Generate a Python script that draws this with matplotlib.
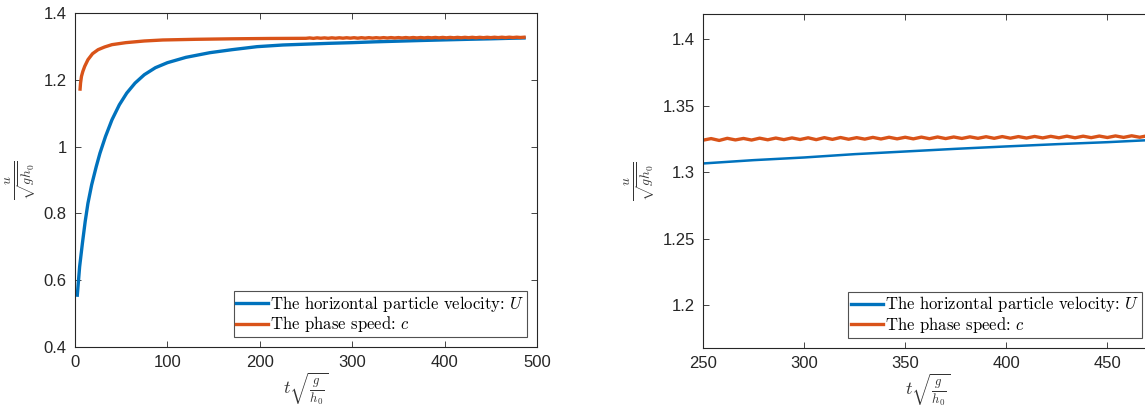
import matplotlib
matplotlib.use('Agg')
import matplotlib.pyplot as plt
import numpy as np

# Data
# horizontal particle velocity U
t_U = [2.5, 5, 8, 11, 14, 18, 23, 27, 33, 40, 48, 56, 65, 75, 87, 100, 120,
       146, 170, 197, 225, 250, 275, 300, 325, 350, 375, 400, 425, 450, 470, 486]
U = [0.555, 0.64, 0.71, 0.775, 0.83, 0.885, 0.94, 0.98, 1.03, 1.08, 1.125,
     1.16, 1.19, 1.215, 1.236, 1.251, 1.267, 1.281, 1.29, 1.299, 1.304, 1.3065,
     1.309, 1.311, 1.3135, 1.3155, 1.3175, 1.3193, 1.321, 1.3225, 1.324, 1.325]

# phase speed c (smooth start, then the small wiggles seen in the zoom)
t_c = [5.5, 6, 7, 8.5, 10.5, 14, 19, 25, 32, 40, 55, 75, 95, 130, 170, 210,
       250, 254, 258, 262, 266, 270, 274, 278, 282, 286, 290, 294, 298, 302,
       306, 310, 314, 318, 322, 326, 330, 334, 338, 342, 346, 350, 354, 358,
       362, 366, 370, 374, 378, 382, 386, 390, 394, 398, 402, 406, 410, 414,
       418, 422, 426, 430, 434, 438, 442, 446, 450, 454, 458, 462, 466, 470,
       474, 478, 482, 486]
c = [1.172, 1.19, 1.21, 1.225, 1.24, 1.26, 1.278, 1.29, 1.298, 1.305, 1.311,
     1.316, 1.319, 1.321, 1.3225, 1.3235,
     1.3240, 1.3252, 1.3238, 1.3254, 1.3242, 1.3253, 1.3241, 1.3255, 1.3243,
     1.3256, 1.3244, 1.3257, 1.3245, 1.3258, 1.3244, 1.3259, 1.3246, 1.3260,
     1.3247, 1.3259, 1.3248, 1.3261, 1.3249, 1.3262, 1.3250, 1.3262, 1.3250,
     1.3263, 1.3251, 1.3264, 1.3252, 1.3264, 1.3253, 1.3265, 1.3254, 1.3266,
     1.3254, 1.3267, 1.3255, 1.3267, 1.3256, 1.3268, 1.3257, 1.3269, 1.3258,
     1.3270, 1.3258, 1.3270, 1.3259, 1.3271, 1.3260, 1.3272, 1.3261, 1.3273,
     1.3262, 1.3274, 1.3263, 1.3274, 1.3264, 1.3273]

left_xticks = [0, 100, 200, 300, 400, 500]
left_yticks = [0.4, 0.6, 0.8, 1.0, 1.2, 1.4]
left_yticklabels = ['0.4', '0.6', '0.8', '1', '1.2', '1.4']
right_xticks = [250, 300, 350, 400, 450]
right_yticks = [1.2, 1.25, 1.3, 1.35, 1.4]
right_yticklabels = ['1.2', '1.25', '1.3', '1.35', '1.4']

lab_U = 'The horizontal particle velocity: $U$'
lab_c = 'The phase speed: $c$'

BLUE = '#0072BD'
ORANGE = '#D95319'

plt.rcParams['font.family'] = ['Liberation Sans', 'DejaVu Sans']
plt.rcParams['mathtext.fontset'] = 'cm'

fig = plt.figure(figsize=(11.45, 4.17), dpi=100)
ax1 = fig.add_axes([0.0655, 0.168, 0.4035, 0.801])
ax2 = fig.add_axes([0.614, 0.166, 0.392, 0.801])


def style(ax):
    for s in ax.spines.values():
        s.set_color('#262626')
        s.set_linewidth(0.8)
    ax.tick_params(direction='in', top=True, right=True, length=4,
                   width=0.6, color='#262626', labelsize=12,
                   labelcolor='#262626', pad=6)


def add_legend(ax):
    leg = ax.legend(loc='lower right', prop={'family': 'cmr10', 'size': 12},
                    frameon=True, fancybox=False, edgecolor='#262626',
                    handlelength=1.9, handletextpad=0.15, borderpad=0.15,
                    labelspacing=0.05, borderaxespad=0.6)
    leg.get_frame().set_linewidth(0.8)
    for line in leg.get_lines():
        line.set_linewidth(2.4)


# left panel - whole run
ax1.plot(t_U, U, color=BLUE, lw=2.4, label=lab_U)
ax1.plot(t_c, c, color=ORANGE, lw=2.4, label=lab_c)
ax1.set_xlim(0, 500)
ax1.set_ylim(0.4, 1.4)
ax1.set_xticks(left_xticks)
ax1.set_yticks(left_yticks)
ax1.set_yticklabels(left_yticklabels)
style(ax1)
ax1.set_xlabel(r'$t\sqrt{\frac{g}{h_0}}$', fontsize=13, labelpad=0, color='#333333')
ax1.set_ylabel(r'$\frac{u}{\sqrt{gh_0}}$', fontsize=14, labelpad=4, color='#333333')
add_legend(ax1)

# right panel - zoom on the late stage
ax2.plot(t_U, U, color=BLUE, lw=1.8, label=lab_U)
ax2.plot(t_c, c, color=ORANGE, lw=2.4, label=lab_c)
ax2.set_xlim(250, 472)
ax2.set_ylim(1.168, 1.419)
ax2.set_xticks(right_xticks)
ax2.set_yticks(right_yticks)
ax2.set_yticklabels(right_yticklabels)
style(ax2)
ax2.set_xlabel(r'$t\sqrt{\frac{g}{h_0}}$', fontsize=13, labelpad=0, color='#333333')
ax2.set_ylabel(r'$\frac{u}{\sqrt{gh_0}}$', fontsize=14, labelpad=4, color='#333333')
add_legend(ax2)

fig.savefig('out.png', dpi=100)
